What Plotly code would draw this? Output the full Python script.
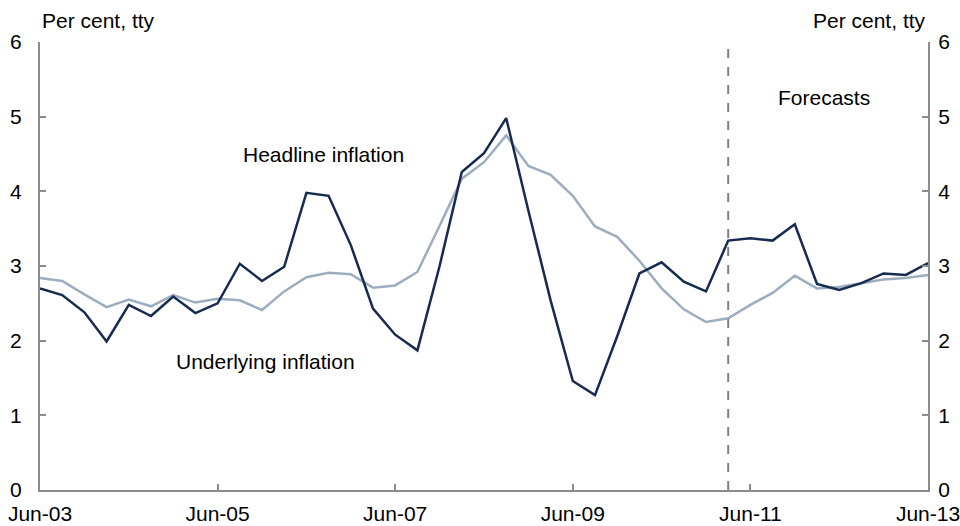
import plotly.graph_objects as go

quarters = [
    "Jun-03", "Sep-03", "Dec-03", "Mar-04", "Jun-04", "Sep-04", "Dec-04", "Mar-05",
    "Jun-05", "Sep-05", "Dec-05", "Mar-06", "Jun-06", "Sep-06", "Dec-06", "Mar-07",
    "Jun-07", "Sep-07", "Dec-07", "Mar-08", "Jun-08", "Sep-08", "Dec-08", "Mar-09",
    "Jun-09", "Sep-09", "Dec-09", "Mar-10", "Jun-10", "Sep-10", "Dec-10", "Mar-11",
    "Jun-11", "Sep-11", "Dec-11", "Mar-12", "Jun-12", "Sep-12", "Dec-12", "Mar-13",
    "Jun-13",
]

headline = [
    2.70, 2.61, 2.38, 1.99, 2.48, 2.33, 2.59, 2.37,
    2.50, 3.03, 2.80, 2.99, 3.98, 3.94, 3.28, 2.43,
    2.08, 1.87, 3.00, 4.26, 4.51, 4.98, 3.74, 2.54,
    1.46, 1.27, 2.06, 2.90, 3.05, 2.79, 2.66, 3.34,
    3.37, 3.34, 3.56, 2.76, 2.68, 2.77, 2.90, 2.88,
    3.04,
]

underlying = [
    2.84, 2.80, 2.62, 2.45, 2.55, 2.46, 2.61, 2.51,
    2.56, 2.54, 2.41, 2.66, 2.85, 2.91, 2.89, 2.71,
    2.74, 2.92, 3.54, 4.17, 4.39, 4.75, 4.34, 4.22,
    3.94, 3.53, 3.39, 3.07, 2.70, 2.42, 2.25, 2.30,
    2.48, 2.64, 2.87, 2.70, 2.72, 2.77, 2.82, 2.84,
    2.88,
]

tick_labels = ["Jun-03", "Jun-05", "Jun-07", "Jun-09", "Jun-11", "Jun-13"]
forecast_start = "Mar-11"

font = dict(family="Liberation Sans, Arial, sans-serif", size=21, color="black")
axis_grey = "#8c8c8c"

x_idx = list(range(len(quarters)))
tick_idx = [quarters.index(t) for t in tick_labels]

fig = go.Figure()
fig.add_trace(go.Scatter(x=x_idx, y=underlying, mode="lines", name="Underlying inflation",
                         line=dict(color="#9dadbf", width=2.5)))
fig.add_trace(go.Scatter(x=x_idx, y=headline, mode="lines", name="Headline inflation",
                         line=dict(color="#172b50", width=2.5)))
# invisible copy so the right-hand axis gets drawn
fig.add_trace(go.Scatter(x=x_idx, y=underlying, yaxis="y2", mode="lines", opacity=0,
                         line=dict(width=0), hoverinfo="skip", showlegend=False))

# forecast divider
fx = quarters.index(forecast_start)
fig.add_shape(type="line", x0=fx, x1=fx, y0=0, y1=6, xref="x", yref="y",
              line=dict(color="#808080", width=2, dash="dash"))

fig.add_annotation(x=12.76, y=4.5, text="Headline inflation", showarrow=False, font=font)
fig.add_annotation(x=10.16, y=1.72, text="Underlying inflation", showarrow=False, font=font)
fig.add_annotation(x=35.3, y=5.26, text="Forecasts", showarrow=False, font=font)

fig.add_annotation(x=0, y=1, xref="paper", yref="paper", xanchor="left", yanchor="bottom",
                   yshift=8, text="Per cent, tty", showarrow=False, font=font)
fig.add_annotation(x=1, y=1, xref="paper", yref="paper", xanchor="right", yanchor="bottom",
                   yshift=8, text="Per cent, tty", showarrow=False, font=font)

fig.update_layout(
    width=960, height=526,
    margin=dict(l=40, r=32, t=42, b=36, autoexpand=False),
    plot_bgcolor="white", paper_bgcolor="white",
    showlegend=False,
    font=font,
    xaxis=dict(range=[0, len(quarters) - 1], tickvals=tick_idx, ticktext=tick_labels,
               showline=True, linecolor=axis_grey, linewidth=2, ticks="inside",
               tickcolor=axis_grey, ticklen=6, tickwidth=2, showgrid=False, zeroline=False,
               ticklabelstandoff=4, automargin=False, ticklabeloverflow="allow"),
    yaxis=dict(range=[0, 6], dtick=1, showline=True, linecolor=axis_grey, linewidth=2,
               ticks="inside", tickcolor=axis_grey, ticklen=6, tickwidth=2,
               showgrid=False, zeroline=False, ticklabelstandoff=12, automargin=False),
    yaxis2=dict(range=[0, 6], dtick=1, overlaying="y", side="right", showline=True,
                linecolor=axis_grey, linewidth=2, ticks="inside", tickcolor=axis_grey,
                ticklen=6, tickwidth=2, showgrid=False, zeroline=False,
                ticklabelstandoff=4, automargin=False),
)

# page body has an 8px default margin; drop it so the figure fills the window
fig.write_html("out.html", config={"displayModeBar": False},
               post_script="document.body.style.margin='0';")
